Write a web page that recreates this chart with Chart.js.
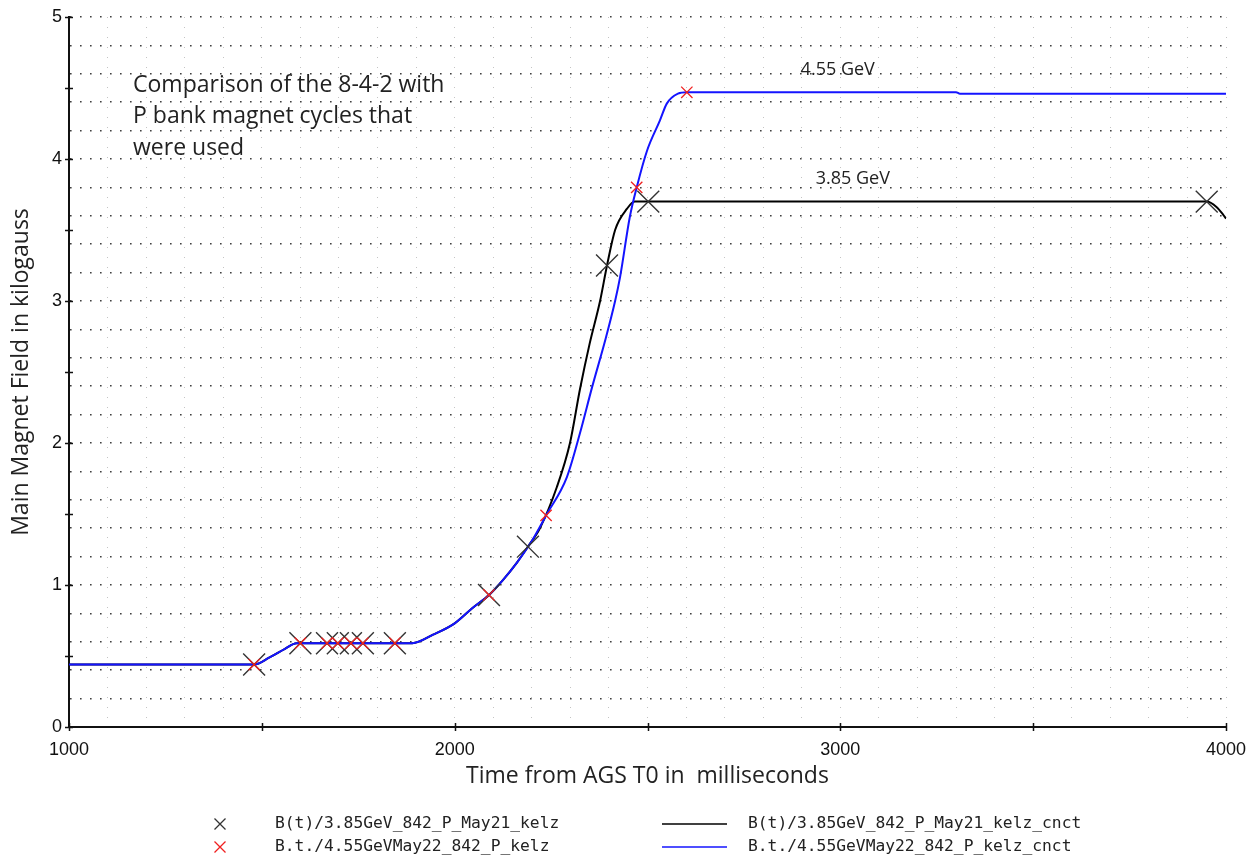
<!DOCTYPE html>
<html>
<head>
<meta charset="utf-8">
<script src="https://cdn.jsdelivr.net/npm/chart.js@4.4.1/dist/chart.umd.min.js"></script>
<style>
    html, body { margin: 0; padding: 0; background: #fff; }
    canvas { display: block; }
</style>
</head>
<body>
<canvas id="magnetChart" width="1251" height="865"></canvas>
<script>
// Magnet cycle curves (time in ms, field in kG)
const lineTimes385 = [1000, 1480, 1520, 1560, 1590, 1890, 1944, 2000, 2047, 2089, 2125, 2162, 2190, 2221, 2265, 2299, 2325, 2350, 2377, 2395, 2416, 2447, 2467, 3950, 3976, 3992, 4000];
const lineField385 = [0.44, 0.44, 0.49, 0.55, 0.59, 0.59, 0.65, 0.73, 0.84, 0.93, 1.035, 1.16, 1.27, 1.40, 1.69, 2.00, 2.38, 2.70, 3.00, 3.25, 3.50, 3.65, 3.70, 3.70, 3.66, 3.61, 3.58];

const lineTimes455 = [1000, 1480, 1520, 1560, 1590, 1890, 1944, 2000, 2047, 2089, 2125, 2162, 2200, 2237, 2291, 2325, 2356, 2390, 2416, 2429, 2454, 2472, 2499, 2532, 2550, 2579, 2602, 3300, 3310, 4000];
const lineField455 = [0.44, 0.44, 0.49, 0.55, 0.59, 0.59, 0.65, 0.73, 0.84, 0.93, 1.035, 1.16, 1.31, 1.49, 1.76, 2.07, 2.39, 2.72, 3.00, 3.17, 3.59, 3.80, 4.06, 4.27, 4.39, 4.46, 4.47, 4.47, 4.46, 4.46];

// Measured points
const markTimes385 = [1480, 1600, 1669, 1697, 1731, 1762, 1845, 2089, 2190, 2395, 2502, 3950];
const markField385 = [0.44, 0.59, 0.59, 0.59, 0.59, 0.59, 0.59, 0.93, 1.27, 3.25, 3.70, 3.70];

const markTimes455 = [1480, 1600, 1669, 1697, 1731, 1762, 1845, 2089, 2237, 2472, 2602];
const markField455 = [0.44, 0.59, 0.59, 0.59, 0.59, 0.59, 0.59, 0.93, 1.49, 3.80, 4.47];

const seriesLabels = [
    'B(t)/3.85GeV_842_P_May21_kelz',
    'B.t./4.55GeVMay22_842_P_kelz',
    'B(t)/3.85GeV_842_P_May21_kelz_cnct',
    'B.t./4.55GeVMay22_842_P_kelz_cnct'
];
const xLabelValues = [1000, 2000, 3000, 4000];
const yLabelValues = [0, 1, 2, 3, 4, 5];

const noteLines = ['Comparison of the 8-4-2 with', 'P bank magnet cycles that', 'were used'];
const energyLabels = ['4.55 GeV', '3.85 GeV'];

function toPoints(xs, ys) {
    return xs.map((x, i) => ({ x: x, y: ys[i] }));
}

const TEXT_FONT = '"Open Sans", "Noto Sans", sans-serif';
const TICK_FONT = '"Liberation Sans", Arial, sans-serif';

// small tick marks crossing the axes
const axisTicks = {
    id: 'axisTicks',
    afterDraw(chart) {
        const { ctx, chartArea, scales } = chart;
        ctx.save();
        ctx.strokeStyle = '#111';
        ctx.lineWidth = 1.5;
        ctx.beginPath();
        for (let v = 0; v <= 5; v += 0.5) {
            const y = Math.round(scales.y.getPixelForValue(v)) + 0.5;
            ctx.moveTo(chartArea.left - 4, y);
            ctx.lineTo(chartArea.left + 4, y);
        }
        for (let t = 1000; t <= 4000; t += 500) {
            const x = Math.round(scales.x.getPixelForValue(t)) + 0.5;
            ctx.moveTo(x, chartArea.bottom - 4);
            ctx.lineTo(x, chartArea.bottom + 4);
        }
        ctx.stroke();
        ctx.restore();
    }
};

// text notes inside the plot
const plotNotes = {
    id: 'plotNotes',
    afterDraw(chart) {
        const { ctx, scales } = chart;
        ctx.save();
        ctx.fillStyle = '#222';
        ctx.textAlign = 'left';
        ctx.textBaseline = 'middle';
        ctx.font = '23px ' + TEXT_FONT;
        const x0 = scales.x.getPixelForValue(1166);
        const y0 = scales.y.getPixelForValue(4.52);
        noteLines.forEach((line, i) => ctx.fillText(line, x0, y0 + i * 31.5));
        ctx.font = '18px ' + TEXT_FONT;
        ctx.fillText(energyLabels[0], scales.x.getPixelForValue(2897), scales.y.getPixelForValue(4.63));
        ctx.fillText(energyLabels[1], scales.x.getPixelForValue(2936), scales.y.getPixelForValue(3.86));
        ctx.restore();
    }
};

// two-column legend under the x axis title
const bottomLegend = {
    id: 'bottomLegend',
    afterDraw(chart) {
        const ctx = chart.ctx;
        const rows = [824, 847];
        ctx.save();
        ctx.font = '16.3px "DejaVu Sans Mono", monospace';
        ctx.textBaseline = 'middle';
        ctx.textAlign = 'left';
        chart.data.datasets.forEach((ds, i) => {
            const y = rows[i % 2];
            ctx.strokeStyle = ds.borderColor;
            ctx.lineWidth = 1.3;
            ctx.beginPath();
            if (!ds.showLine) {
                const cx = 220, r = 5.5;
                ctx.moveTo(cx - r, y - r); ctx.lineTo(cx + r, y + r);
                ctx.moveTo(cx - r, y + r); ctx.lineTo(cx + r, y - r);
                ctx.stroke();
                ctx.fillStyle = '#222';
                ctx.fillText(ds.label, 275, y);
            } else {
                ctx.lineWidth = 1.6;
                ctx.moveTo(662, y); ctx.lineTo(727, y);
                ctx.stroke();
                ctx.fillStyle = '#222';
                ctx.fillText(ds.label, 748, y);
            }
        });
        ctx.restore();
    }
};

const ctx = document.getElementById('magnetChart').getContext('2d');
new Chart(ctx, {
    type: 'scatter',
    data: {
        datasets: [
            {
                label: seriesLabels[0],
                data: toPoints(markTimes385, markField385),
                showLine: false,
                pointStyle: 'crossRot',
                pointRadius: 15.5,
                pointHoverRadius: 15.5,
                borderColor: '#333',
                borderWidth: 1.4,
                order: 1
            },
            {
                label: seriesLabels[1],
                data: toPoints(markTimes455, markField455),
                showLine: false,
                pointStyle: 'crossRot',
                pointRadius: 8,
                pointHoverRadius: 8,
                borderColor: '#f02020',
                borderWidth: 1.3,
                order: 0
            },
            {
                label: seriesLabels[2],
                data: toPoints(lineTimes385, lineField385),
                showLine: true,
                pointRadius: 0,
                borderColor: '#000',
                borderWidth: 2,
                cubicInterpolationMode: 'monotone',
                order: 3
            },
            {
                label: seriesLabels[3],
                data: toPoints(lineTimes455, lineField455),
                showLine: true,
                pointRadius: 0,
                borderColor: '#1414ff',
                borderWidth: 2,
                cubicInterpolationMode: 'monotone',
                order: 2
            }
        ]
    },
    options: {
        responsive: false,
        animation: false,
        events: [],
        layout: { padding: { top: 17, right: 25, left: 0, bottom: 0 } },
        plugins: {
            legend: { display: false },
            tooltip: { enabled: false }
        },
        scales: {
            x: {
                type: 'linear',
                min: 1000,
                max: 4000,
                afterFit: s => { s.height = 138; s.paddingLeft = 0; s.paddingRight = 0; },
                ticks: {
                    stepSize: 100,
                    autoSkip: false,
                    maxRotation: 0,
                    padding: 12,
                    color: '#111',
                    font: { family: TICK_FONT, size: 18 },
                    callback: v => xLabelValues.includes(Math.round(v)) && Math.abs(v - Math.round(v)) < 1e-6 ? String(Math.round(v)) : ''
                },
                grid: { color: '#c4c4c4', lineWidth: 1, drawTicks: false },
                border: { display: true, color: '#111', width: 2, dash: [1, 9] },
                title: {
                    display: true,
                    text: 'Time from AGS T0 in  milliseconds',
                    color: '#222',
                    font: { family: TEXT_FONT, size: 23 },
                    padding: { top: 0, bottom: 75 }
                }
            },
            y: {
                min: 0,
                max: 5,
                afterFit: s => { s.width = 69; s.paddingTop = 0; s.paddingBottom = 0; },
                ticks: {
                    stepSize: 0.2,
                    autoSkip: false,
                    padding: 7,
                    color: '#111',
                    font: { family: TICK_FONT, size: 18 },
                    callback: v => {
                        const r = Math.round(v);
                        return Math.abs(v - r) < 1e-6 && yLabelValues.includes(r) ? String(r) : '';
                    }
                },
                grid: { color: '#404040', lineWidth: 1.6, drawTicks: false },
                border: { display: true, color: '#111', width: 2, dash: [1.6, 8.4] },
                title: {
                    display: true,
                    text: 'Main Magnet Field in kilogauss',
                    color: '#222',
                    font: { family: TEXT_FONT, size: 23 },
                    padding: { top: 8, bottom: 0 }
                }
            }
        }
    },
    plugins: [axisTicks, plotNotes, bottomLegend]
});
</script>
</body>
</html>
